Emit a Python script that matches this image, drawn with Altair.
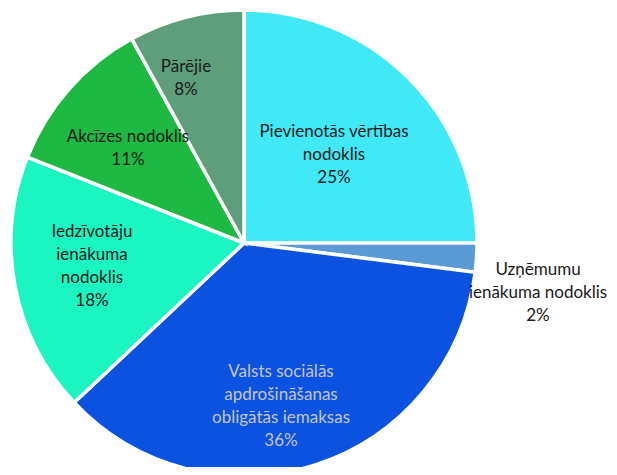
import altair as alt
import pandas as pd

# ---- data ----
categories = [
    "Pievienotās vērtības nodoklis",
    "Uzņēmumu ienākuma nodoklis",
    "Valsts sociālās apdrošināšanas obligātās iemaksas",
    "Iedzīvotāju ienākuma nodoklis",
    "Akcīzes nodoklis",
    "Pārējie",
]
shares = [25, 2, 36, 18, 11, 8]
label_names = [
    "Pievienotās vērtības\nnodoklis",
    "Uzņēmumu\nienākuma nodoklis",
    "Valsts sociālās\napdrošināšanas\nobligātās iemaksas",
    "Iedzīvotāju\nienākuma\nnodoklis",
    "Akcīzes nodoklis",
    "Pārējie",
]

# ---- styling / layout ----
colors = ["#40E9F5", "#5B9BD5", "#0B52E0", "#1BF5C2", "#1DB943", "#5E9E7C"]
label_colors = ["#1a1a1a", "#1a1a1a", "#C4C4C4", "#1a1a1a", "#1a1a1a", "#1a1a1a"]
# label anchor (centre of first line) in chart pixel coordinates
label_pos = [(326, 124), (530, 262), (273, 364), (84, 224), (120, 129), (178, 59)]
cx, cy, R = 236, 235, 233

df = pd.DataFrame({
    "cat": categories,
    "share": shares,
    "order": list(range(len(categories))),
})

arcs = alt.Chart(df).mark_arc(radius=R, stroke="white", strokeWidth=3.5).encode(
    theta=alt.Theta("share:Q", stack=True),
    order=alt.Order("order:Q"),
    color=alt.Color("cat:N", scale=alt.Scale(domain=categories, range=colors), legend=None),
    x=alt.value(cx),
    y=alt.value(cy),
)

lab = pd.DataFrame({
    "text": [f"{n}\n{s}%" for n, s in zip(label_names, shares)],
    "lx": [p[0] for p in label_pos],
    "ly": [p[1] for p in label_pos],
    "tc": label_colors,
})

labels = alt.Chart(lab).mark_text(
    font="Lato", fontSize=17, lineBreak="\n", lineHeight=23,
    align="center", baseline="middle",
).encode(
    x=alt.X("lx:Q", scale=None),
    y=alt.Y("ly:Q", scale=None),
    text="text:N",
    color=alt.Color("tc:N", scale=None),
)

chart = alt.layer(arcs, labels).properties(
    width=601, height=459, padding=0, autosize=alt.AutoSizeParams(type="none"),
    view=alt.ViewBackground(strokeWidth=0, strokeOpacity=0),
).configure_view(strokeWidth=0, strokeOpacity=0).configure(background="white")

chart.save("out.html", embed_options={"renderer": "svg", "actions": False})
